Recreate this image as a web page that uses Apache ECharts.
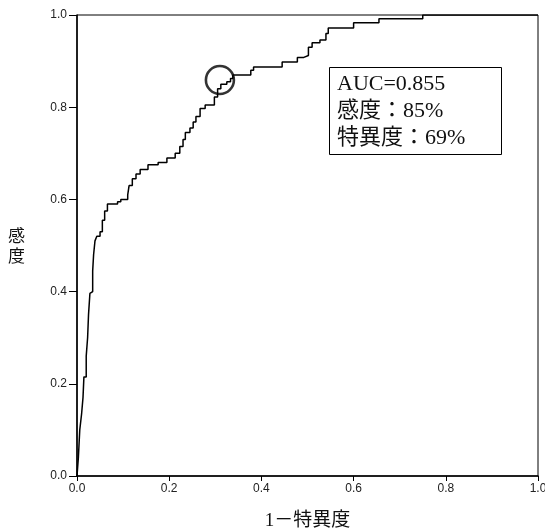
<!DOCTYPE html>
<html>
<head>
<meta charset="utf-8">
<script src="https://cdn.jsdelivr.net/npm/echarts@6/dist/echarts.min.js"></script>
<style>
  html, body { margin: 0; padding: 0; background: #fff; }
  #main { width: 545px; height: 530px; }
</style>
</head>
<body>
<div id="main"></div>
<script>
// ROC曲线的点：1-特異度 与 感度
var fpr = [0, 0.003, 0.006, 0.010, 0.013, 0.015, 0.020, 0.023, 0.025, 0.028,
  0.032, 0.034, 0.036, 0.039, 0.043, 0.050, 0.055, 0.060, 0.066, 0.088,
  0.095, 0.110, 0.113, 0.120, 0.128, 0.137, 0.154, 0.176, 0.195, 0.213,
  0.223, 0.230, 0.235, 0.245, 0.252, 0.258, 0.267, 0.278, 0.298, 0.305,
  0.312, 0.325, 0.333, 0.338, 0.377, 0.383, 0.445, 0.478, 0.492, 0.502,
  0.510, 0.527, 0.540, 0.545, 0.600, 0.655, 0.750, 1.0];
var tpr = [0, 0.04, 0.10, 0.135, 0.17, 0.215, 0.26, 0.30, 0.35, 0.396,
  0.40, 0.445, 0.48, 0.51, 0.52, 0.53, 0.555, 0.575, 0.59, 0.595,
  0.60, 0.61, 0.63, 0.645, 0.655, 0.665, 0.675, 0.68, 0.69, 0.70,
  0.715, 0.73, 0.745, 0.755, 0.768, 0.78, 0.797, 0.805, 0.822, 0.84,
  0.85, 0.855, 0.862, 0.87, 0.88, 0.887, 0.898, 0.908, 0.912, 0.93,
  0.94, 0.946, 0.96, 0.972, 0.983, 0.992, 1.0, 1.0];

// 最佳截断点
var cutoffPoint = [0.31, 0.859];

// 标注文字
var noteLines = ['AUC=0.855', '感度：85%', '特異度：69%'];

var rocData = fpr.map(function (x, i) { return [x, tpr[i]]; });

var myChart = echarts.init(document.getElementById('main'));

var labelStyle = {
    color: '#222',
    fontFamily: 'Liberation Sans',
    fontSize: 12,
    formatter: function (v) { return v.toFixed(1); }
};

myChart.setOption({
    animation: false,
    backgroundColor: '#fff',
    grid: {
        left: 77, top: 15, right: 7, bottom: 54,
        outerBoundsMode: 'none',
        show: true,
        borderColor: '#000',
        borderWidth: 1
    },
    xAxis: {
        type: 'value',
        min: 0, max: 1, interval: 0.2,
        name: '1－特異度',
        nameLocation: 'middle',
        nameGap: 36,
        nameTextStyle: { fontFamily: 'Liberation Serif, Noto Sans CJK JP', fontSize: 19, color: '#111' },
        axisLine: { show: true, lineStyle: { color: '#000', width: 1.5 } },
        axisTick: { show: true, length: 5, lineStyle: { color: '#000' } },
        axisLabel: Object.assign({ margin: 7 }, labelStyle),
        splitLine: { show: false }
    },
    yAxis: {
        type: 'value',
        min: 0, max: 1, interval: 0.2,
        name: '感\n度',
        nameLocation: 'middle',
        nameRotate: 0,
        nameGap: 52,
        nameTextStyle: { fontFamily: 'Noto Sans CJK JP', fontSize: 17, color: '#111', lineHeight: 20 },
        axisLine: { show: true, lineStyle: { color: '#000', width: 1.5 } },
        axisTick: { show: true, length: 8, lineStyle: { color: '#000' } },
        axisLabel: Object.assign({ margin: 10 }, labelStyle),
        splitLine: { show: false }
    },
    series: [{
        type: 'line',
        step: 'end',
        data: rocData,
        symbol: 'none',
        lineStyle: { color: '#000', width: 1.5 }
    }, {
        type: 'scatter',
        data: [cutoffPoint],
        symbol: 'circle',
        symbolSize: 28,
        itemStyle: { color: 'transparent', borderColor: '#000', borderWidth: 2.6 },
        z: 5
    }],
    graphic: [{
        type: 'rect',
        left: 329, top: 67,
        shape: { width: 172, height: 87 },
        style: { fill: '#fff', stroke: '#000', lineWidth: 1 }
    }, {
        type: 'text',
        left: 337, top: 71,
        style: {
            text: noteLines.join('\n'),
            fontFamily: 'Liberation Serif, Noto Sans CJK JP',
            fontSize: 22,
            lineHeight: 27,
            fill: '#111'
        }
    }]
});
</script>
</body>
</html>
